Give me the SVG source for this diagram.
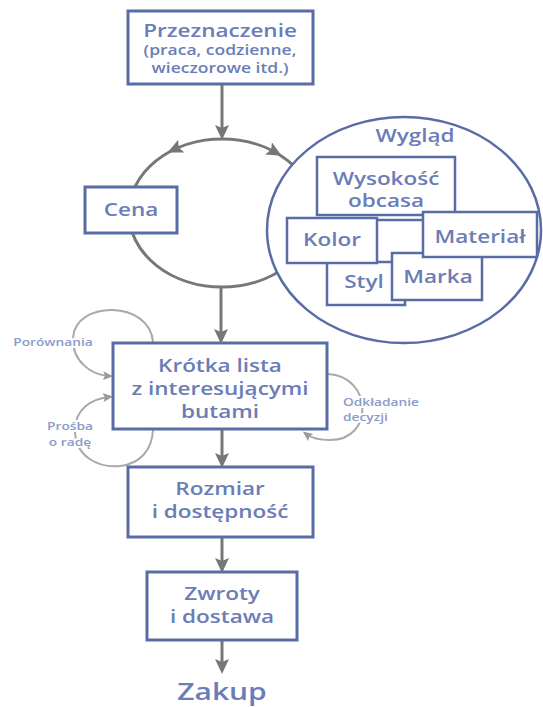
<svg xmlns="http://www.w3.org/2000/svg" width="543" height="707" viewBox="0 0 543 707">
  <style>
    .box { fill: #ffffff; stroke: #5a6ca6; stroke-width: 3; }
    .ibox { fill: #ffffff; stroke: #5a6ca6; stroke-width: 2.5; }
    .oval { fill: #ffffff; stroke: #5a6ca6; stroke-width: 2.5; }
    .t { font-family: "Open Sans", "DejaVu Sans", sans-serif; font-weight: 600; fill: #6a7db6; text-anchor: middle; }
    .l18 { font-size: 18px; }
    .l14 { font-size: 14px; }
    .l24 { font-size: 24px; }
    .note { font-family: "Open Sans", "DejaVu Sans", sans-serif; font-weight: 600; font-size: 11px; fill: #8b9bc8; text-anchor: middle; stroke: #ffffff; stroke-width: 4; paint-order: stroke; stroke-linejoin: round; }
    .flow { fill: none; stroke: #777777; stroke-width: 3; }
    .loop { fill: none; stroke: #a9a9a9; stroke-width: 2; }
  </style>
  <defs>
    <marker id="ah" markerUnits="userSpaceOnUse" markerWidth="15" markerHeight="14" viewBox="0 0 15 14" refX="8" refY="7" orient="auto">
      <path d="M0,0 L15,7 L0,14 L3,7 Z" fill="#777777"/>
    </marker>
    <marker id="ahs" markerUnits="userSpaceOnUse" markerWidth="10" markerHeight="9" viewBox="0 0 10 9" refX="6" refY="4.5" orient="auto">
      <path d="M0,0 L10,4.5 L0,9 L2,4.5 Z" fill="#9a9a9a"/>
    </marker>
  </defs>

  <g id="connectors">
    <!-- ring splitting the flow towards price and look -->
    <ellipse cx="222" cy="213" rx="93" ry="74" class="flow"/>
    <path d="M222,139 A93,74 0 0 0 174,149.5" fill="none" stroke="none" marker-end="url(#ah)"/>
    <path d="M222,139 A93,74 0 0 1 275.5,152.3" fill="none" stroke="none" marker-end="url(#ah)"/>
    <!-- main vertical flow -->
    <path d="M222,84 V133" class="flow" marker-end="url(#ah)"/>
    <path d="M221,287 V337" class="flow" marker-end="url(#ah)"/>
    <path d="M222,429 V461" class="flow" marker-end="url(#ah)"/>
    <path d="M222,537 V566" class="flow" marker-end="url(#ah)"/>
    <path d="M222,640 V667" class="flow" marker-end="url(#ah)"/>
    <!-- feedback loops around the short list -->
    <path d="M153,342 C150,300 75,300 73,338 C72,362 92,375 109,376" class="loop" marker-end="url(#ahs)"/>
    <path d="M153,430 C152,450 140,464 120,466 C100,468 74,458 75,428 C76,410 90,399 109,397" class="loop" marker-end="url(#ahs)"/>
    <path d="M328,374 C372,376 375,440 330,440 C318,440 310,437 306,434" class="loop" marker-end="url(#ahs)"/>
  </g>

  <g id="przeznaczenie">
    <rect x="128" y="11" width="185" height="73" class="box"/>
    <text class="t l18" transform="matrix(1.25 0 0 1 220 0)" x="0" y="37">Przeznaczenie</text>
    <text class="t l14" transform="matrix(1.25 0 0 1 220 0)" x="0" y="55">(praca, codzienne,</text>
    <text class="t l14" transform="matrix(1.25 0 0 1 220 0)" x="0" y="73">wieczorowe itd.)</text>
  </g>

  <g id="cena">
    <rect x="85" y="187" width="92" height="46" class="box"/>
    <text class="t l18" transform="matrix(1.25 0 0 1 131 0)" x="0" y="216">Cena</text>
  </g>

  <g id="wyglad">
    <ellipse cx="404" cy="230" rx="137" ry="113" class="oval"/>
    <text class="t l18" transform="matrix(1.25 0 0 1 415 0)" x="0" y="142">Wygląd</text>
  </g>

  <g id="wysokosc-obcasa">
    <rect x="317" y="157" width="138" height="58" class="ibox"/>
    <text class="t l18" transform="matrix(1.25 0 0 1 386 0)" x="0" y="185">Wysokość</text>
    <text class="t l18" transform="matrix(1.25 0 0 1 386 0)" x="0" y="207">obcasa</text>
  </g>

  <g id="puste-pole">
    <rect x="365" y="220" width="70" height="45" class="ibox"/>
  </g>

  <g id="styl">
    <rect x="327" y="262" width="78" height="43" class="ibox"/>
    <text class="t l18" transform="matrix(1.25 0 0 1 364 0)" x="0" y="288">Styl</text>
  </g>

  <g id="kolor">
    <rect x="287" y="218" width="90" height="45" class="ibox"/>
    <text class="t l18" transform="matrix(1.25 0 0 1 332 0)" x="0" y="246">Kolor</text>
  </g>

  <g id="marka">
    <rect x="392" y="253" width="90" height="47" class="ibox"/>
    <text class="t l18" transform="matrix(1.25 0 0 1 438 0)" x="0" y="283">Marka</text>
  </g>

  <g id="material">
    <rect x="423" y="212" width="114" height="45" class="ibox"/>
    <text class="t l18" transform="matrix(1.25 0 0 1 480 0)" x="0" y="243">Materiał</text>
  </g>

  <g id="krotka-lista">
    <rect x="113" y="343" width="214" height="86" class="box"/>
    <text class="t l18" transform="matrix(1.25 0 0 1 220 0)" x="0" y="372">Krótka lista</text>
    <text class="t l18" transform="matrix(1.25 0 0 1 220 0)" x="0" y="395">z interesującymi</text>
    <text class="t l18" transform="matrix(1.25 0 0 1 220 0)" x="0" y="418">butami</text>
  </g>

  <g id="porownania">
    <text class="note" transform="matrix(1.25 0 0 1 53 0)" x="0" y="346">Porównania</text>
  </g>

  <g id="prosba-o-rade">
    <text class="note" transform="matrix(1.25 0 0 1 70 0)" x="0" y="430">Prośba</text>
    <text class="note" transform="matrix(1.25 0 0 1 70 0)" x="0" y="446">o radę</text>
  </g>

  <g id="odkladanie-decyzji">
    <text class="note" style="text-anchor:start" transform="matrix(1.25 0 0 1 343 0)" x="0" y="406">Odkładanie</text>
    <text class="note" style="text-anchor:start" transform="matrix(1.25 0 0 1 343 0)" x="0" y="421">decyzji</text>
  </g>

  <g id="rozmiar">
    <rect x="128" y="467" width="185" height="70" class="box"/>
    <text class="t l18" transform="matrix(1.25 0 0 1 220 0)" x="0" y="495">Rozmiar</text>
    <text class="t l18" transform="matrix(1.25 0 0 1 220 0)" x="0" y="518">i dostępność</text>
  </g>

  <g id="zwroty">
    <rect x="147" y="572" width="150" height="68" class="box"/>
    <text class="t l18" transform="matrix(1.25 0 0 1 222 0)" x="0" y="600">Zwroty</text>
    <text class="t l18" transform="matrix(1.25 0 0 1 222 0)" x="0" y="623">i dostawa</text>
  </g>

  <g id="zakup">
    <text class="t l24" transform="matrix(1.25 0 0 1 222 0)" x="0" y="700">Zakup</text>
  </g>
</svg>
